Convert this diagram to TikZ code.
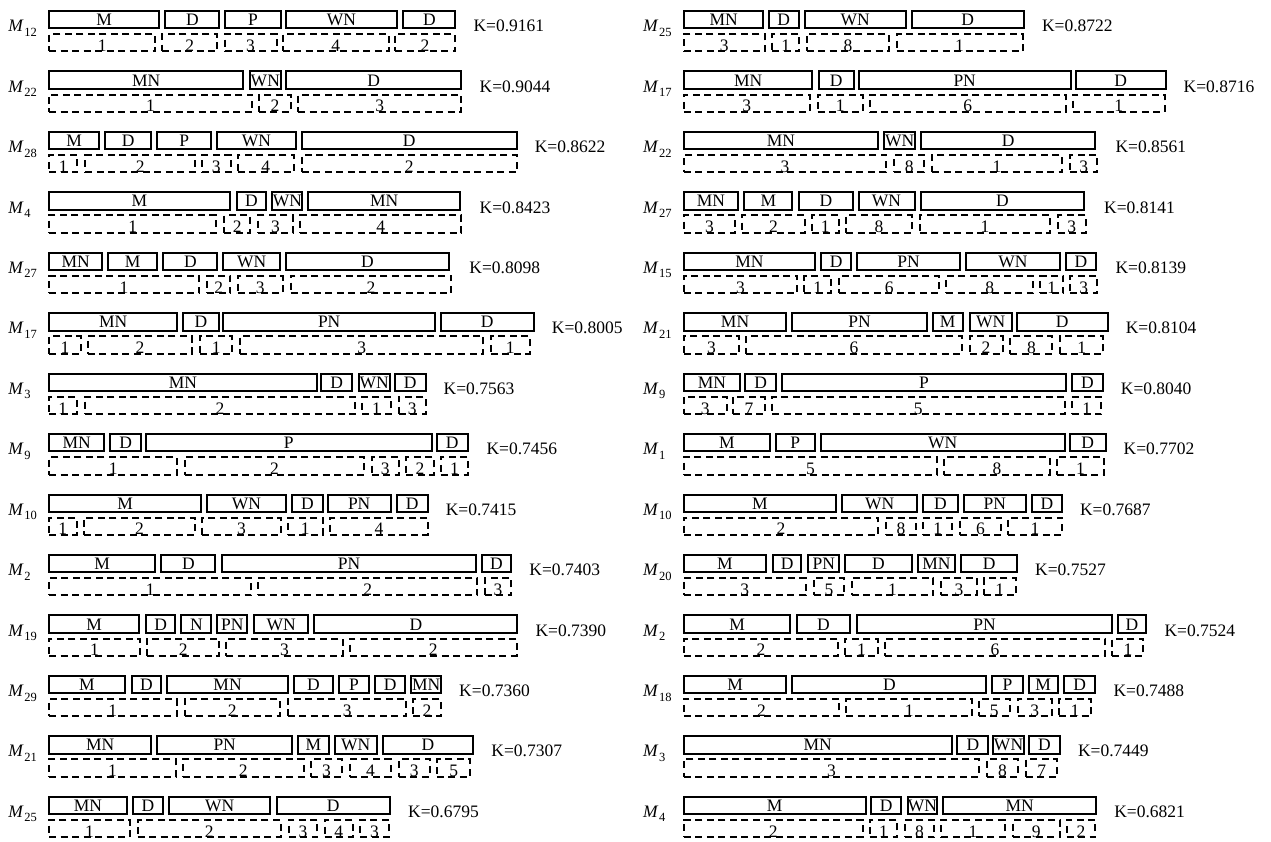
\documentclass[tikz,border=0pt]{standalone}
\usepackage{fontspec}
\setmainfont{Liberation Serif}
\tikzset{
  sbox/.style={draw, line width=2pt, inner sep=0pt, minimum height=17.3pt, text height=12pt, text depth=0pt},
  dbox/.style={draw, line width=2pt, dash pattern=on 7pt off 4.5pt, inner sep=0pt, minimum height=17.3pt, text height=17.3pt, text depth=0pt},
  tlab/.style={anchor=base west, inner sep=0pt},
}
\newcommand\ml[1]{\textit{M}\kern0.5pt\raisebox{-4.5pt}{\fontsize{12.5}{14}\selectfont #1}}
\newcommand\brow[8]{%
  \pgfmathsetmacro\T{10+60.44*#3}%
  \node[tlab] (m#1#3) at (\labx, \T+21.7) {\ml{#4}};%
  \foreach \a/\b/\lab [count=\i] in {#5} {%
    \pgfmathsetmacro\cx{#2+(\a+\b)/4.9}%
    \pgfmathsetmacro\w{(\b-\a)/2.45-2}%
    \node[sbox, minimum width=\w pt] (s#1#3-\i) at (\cx, \T+9.65) {\lab};%
  }%
  \foreach \a/\b/\lab [count=\i] in {#6} {%
    \pgfmathsetmacro\cx{#2+(\a+\b)/4.9}%
    \pgfmathsetmacro\w{(\b-\a)/2.45-2}%
    \node[dbox, minimum width=\w pt] (d#1#3-\i) at (\cx, \T+32.8) {\lab};%
  }%
  \node[tlab] (k#1#3) at ({#2+#7/2.45+17}, \T+21.7) {K=#8};%
}
\begin{document}
\begin{tikzpicture}[x=1pt, y=-1pt, font=\fontsize{17.5}{20}\selectfont]
\useasboundingbox (0,0) rectangle (1271,842);
% ---------------- left column ----------------
\def\labx{8.2}
\brow{L}{0}{0}{12}{118/392/M,403/540/D,550/690/P,698/975/WN,986/1118/D}{118/383/1,395/535/2,548/680/3,690/955/4,966/1117/2}{1118}{0.9161}
\brow{L}{0}{1}{22}{118/598/MN,610/690/WN,698/1133/D}{118/620/1,632/715/2,728/1133/3}{1133}{0.9044}
\brow{L}{0}{2}{28}{118/245/M,255/373/D,383/520/P,530/727/WN,737/1268/D}{118/192/1,207/480/2,492/568/3,580/722/4,737/1268/2}{1268}{0.8622}
\brow{L}{0}{3}{4}{118/565/M,577/655/D,665/743/WN,753/1130/MN}{118/532/1,547/615/2,630/720/3,733/1133/4}{1133}{0.8423}
\brow{L}{0}{4}{27}{118/253/MN,263/387/M,398/535/D,545/688/WN,698/1103/D}{118/490/1,505/567/2,580/695/3,710/1108/2}{1108}{0.8098}
\brow{L}{0}{5}{17}{118/437/MN,447/538/D,545/1068/PN,1077/1310/D}{118/200/1,213/473/2,487/572/1,585/1187/3,1200/1300/1}{1310}{0.8005}
\brow{L}{0}{6}{3}{118/778/MN,785/865/D,877/957/WN,965/1045/D}{118/190/1,205/873/2,885/960/1,975/1045/3}{1045}{0.7563}
\brow{L}{0}{7}{9}{118/258/MN,268/348/D,355/1060/P,1068/1148/D}{118/437/1,450/895/2,908/980/3,993/1065/2,1077/1150/1}{1150}{0.7456}
\brow{L}{0}{8}{10}{118/495/M,505/703/WN,713/793/D,800/960/PN,970/1050/D}{118/190/1,203/480/2,493/690/3,703/793/1,807/1050/4}{1050}{0.7415}
\brow{L}{0}{9}{2}{118/383/M,393/530/D,542/1168/PN,1178/1255/D}{118/618/1,630/1172/2,1185/1255/3}{1255}{0.7403}
\brow{L}{0}{10}{19}{118/343/M,355/432/D,442/520/N,530/608/PN,620/758/WN,768/1270/D}{118/345/1,358/540/2,552/842/3,855/1268/2}{1270}{0.7390}
\brow{L}{0}{11}{29}{118/308/M,320/397/D,407/708/MN,718/818/D,828/907/P,917/995/D,1005/1083/MN}{118/435/1,450/688/2,703/998/3,1010/1082/2}{1083}{0.7360}
\brow{L}{0}{12}{21}{118/373/MN,383/718/PN,728/808/M,818/925/WN,935/1162/D}{118/433/1,445/747/2,760/840/3,855/960/4,975/1055/3,1068/1155/5}{1162}{0.7307}
\brow{L}{0}{13}{25}{118/313/MN,323/402/D,412/665/WN,675/958/D}{118/320/1,335/690/2,705/780/3,793/867/4,880/955/3}{958}{0.6795}
% ---------------- right column ----------------
\def\labx{643}
\brow{R}{631}{0}{25}{127/327/MN,335/413/D,423/675/WN,685/965/D}{127/330/3,343/415/1,428/635/8,648/962/1}{965}{0.8722}
\brow{R}{631}{1}{17}{127/447/MN,457/548/D,555/1080/PN,1088/1312/D}{127/440/3,455/570/1,583/1067/6,1080/1310/1}{1312}{0.8716}
\brow{R}{631}{2}{22}{127/608/MN,618/698/WN,708/1140/D}{127/628/3,643/720/8,735/1058/1,1073/1145/3}{1145}{0.8561}
\brow{R}{631}{3}{27}{127/265/MN,275/398/M,408/547/D,555/697/WN,708/1112/D}{127/258/3,270/428/2,440/512/1,525/690/8,705/1030/1,1043/1117/3}{1117}{0.8141}
\brow{R}{631}{4}{15}{127/453/MN,463/542/D,552/808/PN,818/1053/WN,1063/1142/D}{127/410/3,422/493/1,508/757/6,770/988/8,1000/1062/1,1073/1145/3}{1145}{0.8139}
\brow{R}{631}{5}{21}{127/383/MN,393/727/PN,737/815/M,827/935/WN,943/1170/D}{127/268/3,280/813/6,827/913/2,927/1035/8,1048/1160/1}{1170}{0.8104}
\brow{R}{631}{6}{9}{127/270/MN,278/357/D,367/1068/P,1078/1158/D}{127/237/3,248/330/7,343/1065/5,1078/1155/1}{1158}{0.8040}
\brow{R}{631}{7}{1}{127/343/M,353/452/P,462/1065/WN,1073/1165/D}{127/752/5,765/1028/8,1040/1162/1}{1165}{0.7702}
\brow{R}{631}{8}{10}{127/505/M,515/703/WN,713/803/D,813/970/PN,980/1058/D}{127/608/2,623/700/8,713/790/1,803/910/6,922/1058/1}{1058}{0.7687}
\brow{R}{631}{9}{20}{127/333/M,345/420/D,432/513/PN,522/690/D,700/797/MN,807/948/D}{127/430/3,445/525/5,538/743/1,757/850/3,862/945/1}{948}{0.7527}
\brow{R}{631}{10}{2}{127/393/M,403/540/D,552/1180/PN,1190/1265/D}{127/510/2,522/607/1,620/1163/6,1177/1258/1}{1265}{0.7524}
\brow{R}{631}{11}{18}{127/383/M,393/873/D,883/962/P,972/1048/M,1058/1140/D}{127/512/2,525/838/1,850/930/5,945/1033/3,1045/1130/1}{1140}{0.7488}
\brow{R}{631}{12}{3}{127/788/MN,797/878/D,885/965/WN,973/1053/D}{127/855/3,870/950/8,965/1047/7}{1053}{0.7449}
\brow{R}{631}{13}{4}{127/577/M,585/665/D,675/753/WN,763/1142/MN}{127/570/2,582/655/1,668/745/8,758/918/1,933/1053/9,1065/1140/2}{1142}{0.6821}
\end{tikzpicture}
\end{document}
